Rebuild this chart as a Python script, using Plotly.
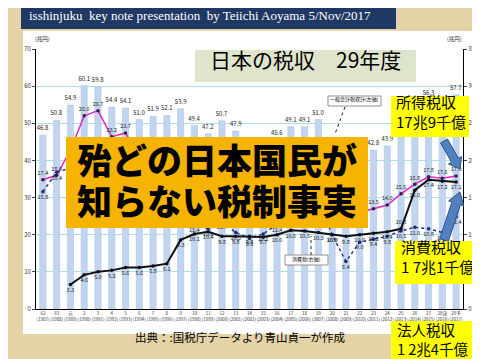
import math
import plotly.graph_objects as go

# ---------------- data ----------------
years = ["62", "63", "元", "2", "3", "4", "5", "6", "7", "8", "9", "10", "11", "12", "13",
         "14", "15", "16", "17", "18", "19", "20", "21", "22", "23", "24", "25", "26",
         "27", "28決", "29予"]
western = [1987 + i for i in range(31)]
total_tax = [46.8, 50.8, 54.9, 60.1, 59.8, 54.4, 54.1, 51.0, 51.9, 52.1, 53.9, 49.4, 47.2,
             50.7, 47.9, 43.8, 43.3, 45.6, 49.1, 49.1, 51.0, 44.3, 38.7, 41.5, 42.8, 43.9,
             47.0, 54.0, 56.3, 55.5, 57.7]
income_tax = [17.4, 18.0, 21.4, 26.0, 26.7, 23.2, 23.7, 20.4, 19.5, 19.0, 19.2, 17.0, 15.4,
              18.8, 17.8, 14.8, 13.9, 14.7, 15.6, 14.1, 16.1, 15.0, 12.9, 13.0, 13.5, 14.0,
              15.5, 16.8, 17.8, 17.6, 17.9]
corporate_tax = [15.8, 18.4, 19.0, 18.4, 16.6, 13.7, 12.1, 12.4, 13.7, 14.5, 13.5, 11.4, 10.8,
                 11.7, 10.3, 9.5, 10.1, 11.4, 13.3, 14.9, 14.7, 10.0, 6.4, 9.0, 9.4, 9.8,
                 10.5, 11.0, 10.8, 10.3, 12.4]
consumption_tax = [None, None, 3.3, 4.6, 5.0, 5.2, 5.6, 5.6, 5.8, 6.1, 9.3, 10.1, 10.4, 9.8,
                   9.8, 9.8, 9.7, 10.0, 10.6, 10.5, 10.3, 10.0, 9.8, 10.0, 10.2, 10.4, 10.8,
                   16.0, 17.4, 17.2, 17.1]
left_ticks = [0, 10, 20, 30, 40, 50, 60, 70]
right_ticks = [0, 5, 10, 15, 20, 25, 30, 35]

# ---------------- geometry helpers ----------------
W, H = 480, 359
def PX(x): return x / W
def PY(y): return 1 - y / H

X0, X1 = 28, 455          # plot area in pixels
Y0, Y1 = 301, 41
N = len(years)
def xpix(i): return X0 + (i + 0.5) * (X1 - X0) / N
def ylpix(v): return Y0 - v * (Y0 - Y1) / 70
def yrpix(v): return Y0 - v * (Y0 - Y1) / 35

JP = "Noto Sans CJK JP"
idx = list(range(N))
ticktext = [f"{y}<br>({w})" for y, w in zip(years, western)]

# overlay boxes (pixels): x0, y0, x1, y1
TITLE_BOX = (187, 42, 408, 74)
ORANGE_BOX = (58, 129, 360, 220)
Y_BOX1 = (383, 88, 461, 129)
Y_BOX2 = (387, 233, 480, 276)
Y_BOX3 = (383, 313, 475, 359)
COVER = [TITLE_BOX, ORANGE_BOX, Y_BOX1, Y_BOX2, Y_BOX3]

def hidden(px, py):
    for (a, b, c, d) in COVER:
        if a < px < c and b < py < d:
            return True
    return False

def labels(vals, ypix, offset):
    out = []
    for i, v in enumerate(vals):
        if v is None or hidden(xpix(i), ypix(v) + offset):
            out.append("")
        else:
            out.append(f"{v:.1f}")
    return out

# right-axis tick labels that sit under the yellow box are not visible
right_text = ["" if hidden(463, yrpix(t)) else str(t) for t in right_ticks]

fig = go.Figure()

fig.add_trace(go.Bar(
    x=idx, y=total_tax, yaxis="y", width=0.45,
    marker=dict(color="#c2d5ef", line=dict(color="#a6bfe2", width=0.5)),
    text=labels(total_tax, ylpix, -5), textposition="outside", constraintext="none",
    textfont=dict(size=6, color="#222", family=JP), cliponaxis=False, showlegend=False))

fig.add_trace(go.Scatter(
    x=idx, y=income_tax, yaxis="y2", mode="lines+markers+text",
    line=dict(color="#e028c8", width=1.5),
    marker=dict(color="#3a1a40", size=3.5),
    text=labels(income_tax, yrpix, -6), textposition="top center",
    textfont=dict(size=5.5, color="#222", family=JP), cliponaxis=False, showlegend=False))

fig.add_trace(go.Scatter(
    x=idx, y=corporate_tax, yaxis="y2", mode="lines+markers+text",
    line=dict(color="#1c2a78", width=1.4, dash="dot"),
    marker=dict(color="#1c2a78", size=3.5),
    text=labels(corporate_tax, yrpix, 6), textposition="bottom center",
    textfont=dict(size=5.5, color="#222", family=JP), cliponaxis=False, showlegend=False))

cons_pos = ["bottom center"] * N
cons_pos[26] = "top center"
fig.add_trace(go.Scatter(
    x=idx, y=consumption_tax, yaxis="y2", mode="lines+markers+text",
    line=dict(color="#111", width=2),
    marker=dict(color="#111", size=3.5),
    text=labels(consumption_tax, yrpix, 6), textposition=cons_pos,
    textfont=dict(size=5.5, color="#222", family=JP), cliponaxis=False, showlegend=False))

shapes = []
ann = []

def rect(b, fill, layer="above", line=None):
    x0, y0, x1, y1 = b
    shapes.append(dict(type="rect", xref="paper", yref="paper", layer=layer,
                       x0=PX(x0), x1=PX(x1), y0=PY(y1), y1=PY(y0), fillcolor=fill,
                       line=line or dict(width=0)))

# chart panel and top banner
rect((15, 23, 470, 326), "white", layer="below")
rect((13, 0, 388, 21), "#203864", layer="below")

def arrow(x0, y0, x1, y1, shaft, headw, headl):
    dx, dy = x1 - x0, y1 - y0
    L = math.hypot(dx, dy)
    ux, uy = dx / L, dy / L
    nx, ny = -uy, ux
    bx, by = x1 - ux * headl, y1 - uy * headl
    pts = [(x0 + nx * shaft / 2, y0 + ny * shaft / 2),
           (bx + nx * shaft / 2, by + ny * shaft / 2),
           (bx + nx * headw / 2, by + ny * headw / 2),
           (x1, y1),
           (bx - nx * headw / 2, by - ny * headw / 2),
           (bx - nx * shaft / 2, by - ny * shaft / 2),
           (x0 - nx * shaft / 2, y0 - ny * shaft / 2)]
    path = "M " + " L ".join(f"{PX(a):.5f},{PY(b):.5f}" for a, b in pts) + " Z"
    shapes.append(dict(type="path", xref="paper", yref="paper", layer="above", path=path,
                       fillcolor="#4f81bd", line=dict(color="#2f528f", width=1)))

arrow(436, 133, 452, 161, 8, 15, 10)
arrow(436, 232, 452, 184, 9, 16, 12)

# dashed leader lines
for (a, b, c, d) in [(337, 99, 327, 126), (303, 247, 303, 228)]:
    shapes.append(dict(type="line", xref="paper", yref="paper", layer="above",
                       x0=PX(a), y0=PY(b), x1=PX(c), y1=PY(d),
                       line=dict(color="#222", width=1, dash="dot")))

def text_at(x, y, text, size, xanchor="left", color="black", family=JP, weight=None):
    f = dict(size=size, color=color, family=family)
    if weight:
        f["weight"] = weight
    ann.append(dict(xref="paper", yref="paper", x=PX(x), y=PY(y), xanchor=xanchor,
                    yanchor="middle", showarrow=False,
                    align="left" if xanchor == "left" else "center",
                    text=text, font=f, borderpad=0))

# boxes (y values compensate for the renderer placing CJK text slightly low)
rect(TITLE_BOX, "#dfe4cc")
text_at((TITLE_BOX[0] + TITLE_BOX[2]) / 2, 51, "日本の税収　29年度", 21, xanchor="center")
rect(ORANGE_BOX, "#f6b400")
text_at(209, 150, "殆どの日本国民が", 35, xanchor="center", weight=900)
text_at(209, 191, "知らない税制事実", 35, xanchor="center", weight=900)

rect(Y_BOX1, "#ffff00")
text_at(387, 103, "所得税収<br>17兆9千億", 15)
rect(Y_BOX2, "#ffff00")
text_at(392, 248.5, "消費税収<br>1 7兆1千億", 15)
rect(Y_BOX3, "#ffff00")
text_at(388, 331, "法人税収<br>1 2兆4千億", 14.5)

SMALL1 = (320, 88, 373, 98)
SMALL2 = (277, 247, 320, 257)
rect(SMALL1, "white", line=dict(color="#777", width=0.8))
text_at(346.5, 91.5, "一般会計税収計(左軸)", 5, xanchor="center")
rect(SMALL2, "white", line=dict(color="#777", width=0.8))
text_at(298.5, 250.5, "消費税(右軸)", 5, xanchor="center")

text_at(20, 8, "isshinjuku  key note presentation  by Teiichi Aoyama 5/Nov/2017", 13,
        color="white", family="Liberation Serif")
text_at(34, 31, "(兆円)", 5.5, xanchor="center", color="#222")
text_at(446, 31, "(兆円)", 5.5, xanchor="center", color="#222")
text_at(232, 329, "出典：:国税庁データより青山貞一が作成", 11.5, xanchor="center")

fig.update_layout(
    width=W, height=H, margin=dict(l=0, r=0, t=0, b=0, autoexpand=False),
    paper_bgcolor="#e4d3a6", plot_bgcolor="rgba(0,0,0,0)",
    showlegend=False,
    xaxis=dict(domain=[PX(X0), PX(X1)], range=[-0.5, N - 0.5], tickvals=idx,
               ticktext=ticktext, tickfont=dict(size=4.5, color="#333", family=JP),
               tickangle=0, showline=True, linecolor="black", linewidth=1,
               showgrid=False, ticks="", zeroline=False),
    yaxis=dict(domain=[1 - Y0 / H, 1 - Y1 / H], range=[0, 70], tickvals=left_ticks,
               tickfont=dict(size=6, color="#333", family=JP), showline=True,
               linecolor="black", linewidth=1, ticks="outside", ticklen=3,
               gridcolor="#aee0e8", gridwidth=1, zeroline=False),
    yaxis2=dict(range=[0, 35], tickvals=right_ticks, ticktext=right_text, overlaying="y",
                side="right", anchor="x", tickfont=dict(size=6, color="#333", family=JP),
                showline=True, linecolor="black", linewidth=1, ticks="outside", ticklen=3,
                showgrid=False, zeroline=False),
    shapes=shapes, annotations=ann,
)

fig.write_html("out.html")
